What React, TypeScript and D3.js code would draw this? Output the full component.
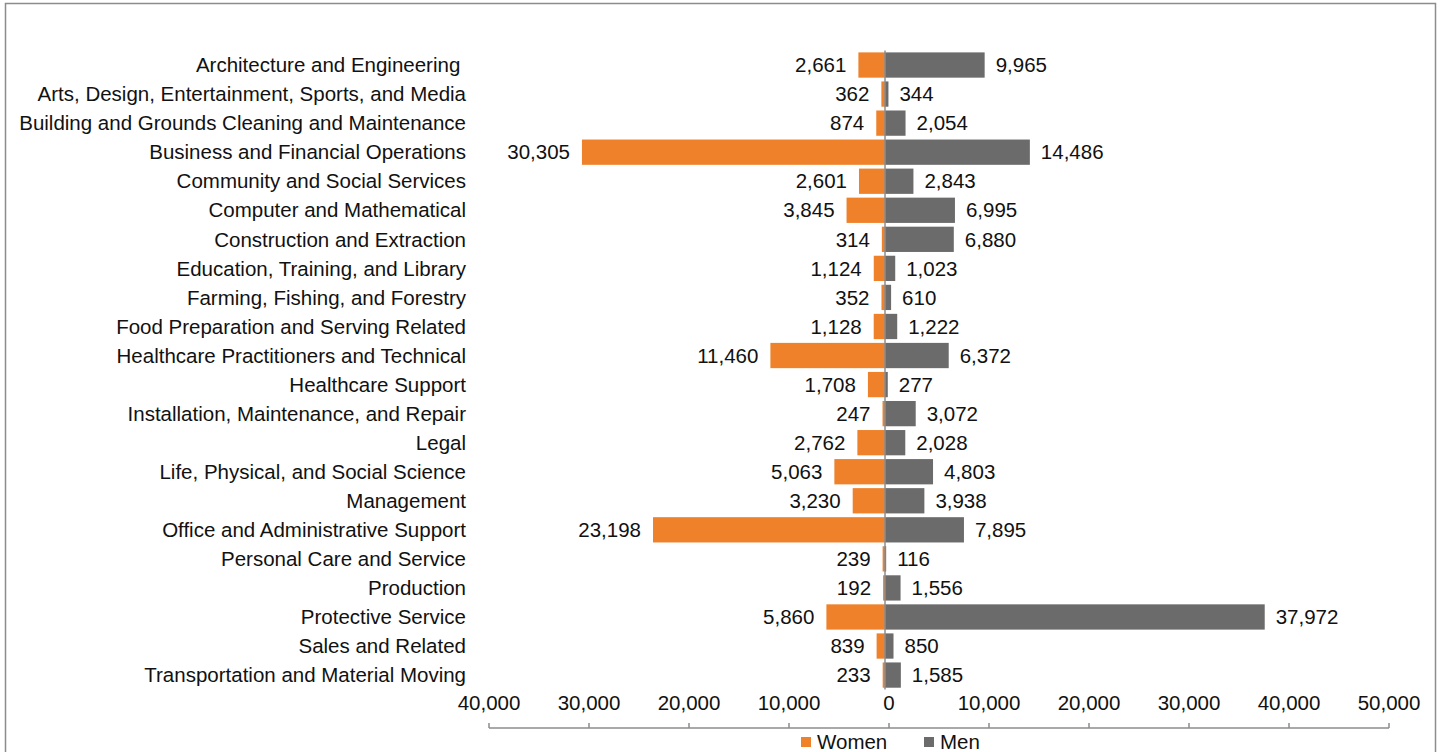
import React from "react";
import * as d3 from "d3";

const categories = [
  "Architecture and Engineering ",
  "Arts, Design, Entertainment, Sports, and Media",
  "Building and Grounds Cleaning and Maintenance",
  "Business and Financial Operations",
  "Community and Social Services",
  "Computer and Mathematical",
  "Construction and Extraction",
  "Education, Training, and Library",
  "Farming, Fishing, and Forestry",
  "Food Preparation and Serving Related",
  "Healthcare Practitioners and Technical",
  "Healthcare Support",
  "Installation, Maintenance, and Repair",
  "Legal",
  "Life, Physical, and Social Science",
  "Management",
  "Office and Administrative Support",
  "Personal Care and Service",
  "Production",
  "Protective Service",
  "Sales and Related",
  "Transportation and Material Moving",
];

const women = [2661, 362, 874, 30305, 2601, 3845, 314, 1124, 352, 1128, 11460, 1708, 247, 2762, 5063, 3230, 23198, 239, 192, 5860, 839, 233];
const men = [9965, 344, 2054, 14486, 2843, 6995, 6880, 1023, 610, 1222, 6372, 277, 3072, 2028, 4803, 3938, 7895, 116, 1556, 37972, 850, 1585];

const tickValues = [-40000, -30000, -20000, -10000, 0, 10000, 20000, 30000, 40000, 50000];
const seriesNames = ["Women", "Men"];
const seriesColors = ["#EE8129", "#6B6B6B"];

const W = 1443;
const H = 752;
const FONT = "'Liberation Sans', Arial, sans-serif";
const FS = 20.5;

export default function App() {
  const x = d3.scaleLinear().domain([-40000, 50000]).range([485, 1385]);
  const xAxis = d3.scaleLinear().domain([-40000, 50000]).range([489, 1389]);
  const y = d3
    .scaleBand<string>()
    .domain(categories)
    .range([50.5, 689.6])
    .paddingInner(0.13)
    .paddingOuter(0.065);
  const fmt = d3.format(",");
  const axisY = 728;
  const bw = y.bandwidth();

  return (
    <svg
      width={W}
      height={H}
      style={{ position: "absolute", left: 0, top: 0, background: "#fff" }}
      fontFamily={FONT}
    >
      <rect x={0} y={0} width={W} height={H} fill="#fff" />
      <rect x={5.5} y={3.5} width={1430} height={780} fill="none" stroke="#8c8c8c" strokeWidth={1.5} />

      {categories.map((c, i) => {
        const yc = (y(c) as number) + bw / 2;
        const wv = women[i];
        const mv = men[i];
        return (
          <g key={c}>
            <text
              x={466}
              y={yc}
              dy="0.35em"
              textAnchor="end"
              fontSize={FS}
              fill="#111"
              style={{ whiteSpace: "pre" }}
            >
              {c}
            </text>
            <rect x={x(-wv)} y={y(c)} width={x(0) - x(-wv)} height={bw} fill={seriesColors[0]} />
            <rect x={x(0)} y={y(c)} width={x(mv) - x(0)} height={bw} fill={seriesColors[1]} />
            <text x={x(-wv) - 12} y={yc} dy="0.35em" textAnchor="end" fontSize={FS} fill="#111">
              {fmt(wv)}
            </text>
            <text x={x(mv) + 11} y={yc} dy="0.35em" textAnchor="start" fontSize={FS} fill="#111">
              {fmt(mv)}
            </text>
          </g>
        );
      })}

      <line x1={x(0)} x2={x(0)} y1={y.range()[0]} y2={y.range()[1]} stroke="#8c8c8c" strokeWidth={1.5} />

      <line x1={xAxis(-40000)} x2={xAxis(50000)} y1={axisY} y2={axisY} stroke="#8c8c8c" strokeWidth={1.5} />
      {tickValues.map((t) => (
        <g key={t}>
          <line x1={xAxis(t)} x2={xAxis(t)} y1={axisY - 5} y2={axisY} stroke="#8c8c8c" strokeWidth={1.5} />
          <text x={xAxis(t)} y={703} dy="0.35em" textAnchor="middle" fontSize={FS} fill="#111">
            {fmt(Math.abs(t))}
          </text>
        </g>
      ))}

      {seriesNames.map((s, i) => {
        const lx = i === 0 ? 801 : 924;
        return (
          <g key={s}>
            <rect x={lx} y={737} width={10} height={10} fill={seriesColors[i]} />
            <text x={lx + 16} y={742} dy="0.35em" fontSize={FS} fill="#111">
              {s}
            </text>
          </g>
        );
      })}
    </svg>
  );
}
